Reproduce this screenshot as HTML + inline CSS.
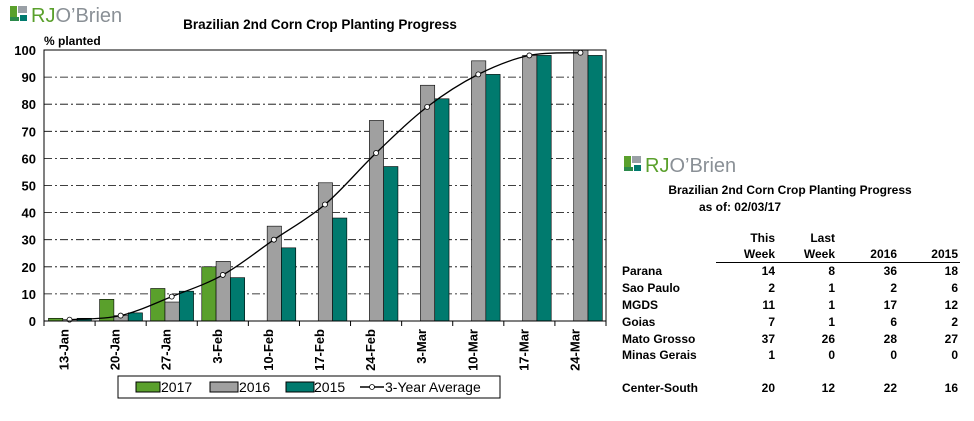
<!DOCTYPE html>
<html><head><meta charset="utf-8"><style>
body{margin:0;background:#fff;width:974px;height:416px;overflow:hidden;font-family:"Liberation Sans",Arial,sans-serif}
svg text{font-family:"Liberation Sans",Arial,sans-serif}
</style></head><body>
<svg id="c" width="974" height="416" viewBox="0 0 974 416" xmlns="http://www.w3.org/2000/svg">
<defs>
<g id="logoicon">
<rect x="0" y="0" width="7" height="15" fill="#5aa02c"/>
<rect x="8" y="0" width="9" height="7" fill="#9aa0a6"/>
<rect x="10" y="9" width="7" height="6" fill="#007a6e"/>
<rect x="0" y="11" width="9" height="4" fill="#2c8a4a"/>
</g>
</defs>
<g>
<use href="#logoicon" x="10" y="6"/>
<text x="31" y="22" font-size="20" fill="#5aa02c">RJ<tspan fill="#8a9096">O’Brien</tspan></text>
</g>
<text x="320" y="29" font-size="13.5" font-weight="bold" text-anchor="middle">Brazilian 2nd Corn Crop Planting Progress</text>
<text x="44" y="45" font-size="12" font-weight="bold">% planted</text>
<g id="grid"></g>
<g id="bars"></g>
<g id="line"></g>
<g id="axes"></g>
<g>
<rect x="118" y="376" width="382" height="22" fill="#fff" stroke="#000" stroke-width="1"/>
<rect x="136" y="382" width="24" height="10" fill="#5aa02c" stroke="#000" stroke-width="1"/>
<text x="161" y="392" font-size="14">2017</text>
<rect x="210" y="382" width="28" height="10" fill="#a0a0a0" stroke="#000" stroke-width="1"/>
<text x="239" y="392" font-size="14">2016</text>
<rect x="286" y="382" width="28" height="10" fill="#007a6e" stroke="#000" stroke-width="1"/>
<text x="314" y="392" font-size="14">2015</text>
<line x1="360" y1="387" x2="384" y2="387" stroke="#000" stroke-width="1.5"/>
<circle cx="372" cy="387" r="2.5" fill="#fff" stroke="#000" stroke-width="0.8"/>
<text x="385" y="392" font-size="14">3-Year Average</text>
</g>

<g font-size="12" font-weight="bold">
<g>
<use href="#logoicon" x="624" y="156"/>
<text x="645" y="172" font-size="20" font-weight="normal" fill="#5aa02c">RJ<tspan fill="#8a9096">O’Brien</tspan></text>
</g>
<text x="790" y="194" text-anchor="middle">Brazilian 2nd Corn Crop Planting Progress</text>
<text x="740" y="211" text-anchor="middle">as of:   02/03/17</text>
<text x="775" y="242" text-anchor="end">This</text>
<text x="835" y="242" text-anchor="end">Last</text>
<text x="775" y="258" text-anchor="end">Week</text>
<text x="835" y="258" text-anchor="end">Week</text>
<text x="897" y="258" text-anchor="end">2016</text>
<text x="958" y="258" text-anchor="end">2015</text>
<line x1="716" y1="262.5" x2="960" y2="262.5" stroke="#000" stroke-width="1"/>
<g id="rows"></g>
</g>
</svg>
<script>
const categories=["13-Jan","20-Jan","27-Jan","3-Feb","10-Feb","17-Feb","24-Feb","3-Mar","10-Mar","17-Mar","24-Mar"];
const s2017=[1,8,12,20,null,null,null,null,null,null,null];
const s2016=[0.5,2,7,22,35,51,74,87,96,98,100];
const s2015=[1,3,11,16,27,38,57,82,91,98,98];
const avg3=[0.5,2,9,17,30,43,62,79,91,98,99];
const yTicks=[0,10,20,30,40,50,60,70,80,90,100];
const regions=["Parana","Sao Paulo","MGDS","Goias","Mato Grosso","Minas Gerais","Center-South"];
const thisWeek=[14,2,11,7,37,1,20];
const lastWeek=[8,1,1,1,26,0,12];
const y2016=[36,2,17,6,28,0,22];
const y2015=[18,6,12,2,27,0,16];

const NS="http://www.w3.org/2000/svg";
const L=44,R=606,T=50,B=321;
const cw=(R-L)/categories.length;
const ys=v=>B-(v/100)*(B-T);
const xc=i=>L+i*cw;
function mk(tag,attrs,parent){const e=document.createElementNS(NS,tag);for(const k in attrs)e.setAttribute(k,attrs[k]);parent.appendChild(e);return e;}
const grid=document.getElementById('grid'),bars=document.getElementById('bars'),line=document.getElementById('line'),axes=document.getElementById('axes');
yTicks.forEach(t=>{
  const y=ys(t);
  if(t>0&&t<100){const g=mk('line',{x1:L,x2:R,y1:y,y2:y,stroke:'#000','stroke-width':0.8,'stroke-dasharray':'8 3 2 3'},grid);
  
  }
  const tx=mk('text',{x:L-8,y:y+5,'font-size':13,'font-weight':'bold','text-anchor':'end'},axes);tx.textContent=t;
  
  
});
const series=[[s2017,'#5aa02c','2017'],[s2016,'#a0a0a0','2016'],[s2015,'#007a6e','2015']];
const bw=14.3,off=4.5;
categories.forEach((c,i)=>{
  series.forEach(([arr,col,nm],j)=>{
    const v=arr[i];if(v==null)return;
    const r=mk('rect',{x:xc(i)+off+j*bw,y:ys(v),width:bw,height:B-ys(v),fill:col,stroke:'#000','stroke-width':0.6},bars);
    
    
  });
  mk('line',{x1:xc(i),x2:xc(i),y1:B,y2:B+5,stroke:'#000'},axes);
  const lx=xc(i)+cw/2-1,ly=B+8;
  const t=mk('text',{x:lx,y:ly,'font-size':13,'font-weight':'bold','text-anchor':'end',transform:`rotate(-90 ${lx} ${ly})`},axes);t.textContent=c;
  
  
});
mk('line',{x1:R,x2:R,y1:B,y2:B+5,stroke:'#000'},axes);
mk('rect',{x:L,y:T,width:R-L,height:B-T,fill:'none',stroke:'#000','stroke-width':1},axes);
const pts=avg3.map((v,i)=>[xc(i)+cw/2,ys(v)]);
let d=`M${pts[0][0]},${pts[0][1]}`;
for(let i=0;i<pts.length-1;i++){const p0=pts[Math.max(0,i-1)],p1=pts[i],p2=pts[i+1],p3=pts[Math.min(pts.length-1,i+2)];
d+=` C${p1[0]+(p2[0]-p0[0])/6},${p1[1]+(p2[1]-p0[1])/6} ${p2[0]-(p3[0]-p1[0])/6},${p2[1]-(p3[1]-p1[1])/6} ${p2[0]},${p2[1]}`;}
const pl=mk('path',{d:d,fill:'none',stroke:'#000','stroke-width':1.3},line);


pts.forEach((p,i)=>{const c=mk('circle',{cx:p[0],cy:p[1],r:2.5,fill:'#fff',stroke:'#000','stroke-width':0.8},line);

});
const rows=document.getElementById('rows');
const rowY=[275,292,309,326,343,359,392];
regions.forEach((r,i)=>{
  const y=rowY[i];
  const g=mk('g',{},rows);
  
  
  mk('text',{x:622,y:y},g).textContent=r;
  [[thisWeek,775],[lastWeek,835],[y2016,897],[y2015,958]].forEach(([a,x])=>{mk('text',{x:x,y:y,'text-anchor':'end'},g).textContent=a[i];});
});
</script>
</body></html>
